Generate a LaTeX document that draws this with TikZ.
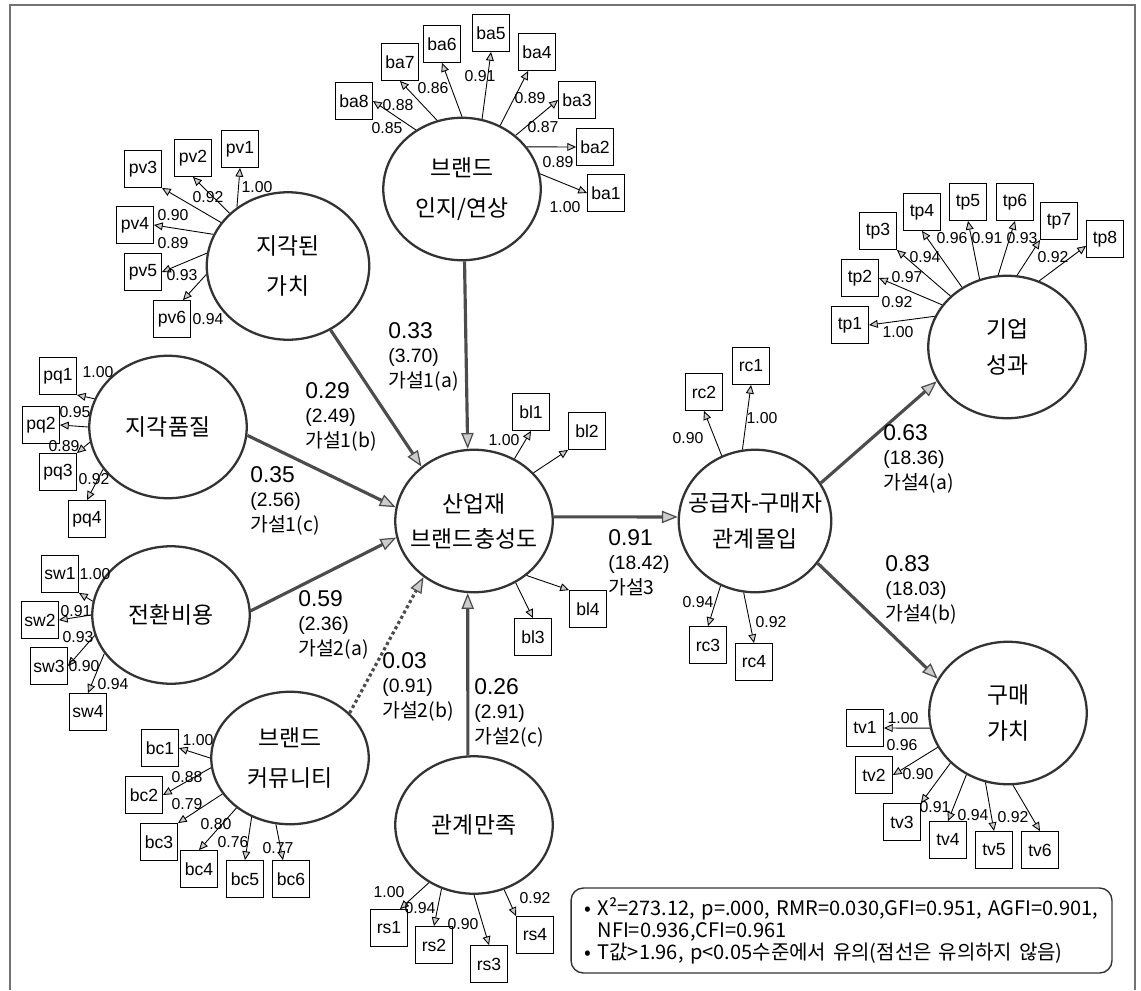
\documentclass[tikz,border=0pt]{standalone}
\usepackage{fontspec}
\newfontfamily\krfont{Noto Sans CJK KR}
\newfontfamily\arfont{Liberation Sans}
\usetikzlibrary{shapes.geometric,arrows.meta}
\newcommand{\pcoef}{\arfont\fontsize{13}{14}\selectfont}
\newcommand{\ptval}{\arfont\fontsize{11}{14}\selectfont}

\begin{document}
\begin{tikzpicture}[x=0.02cm ,y=-0.02cm ,
latent/.style ={draw=black!80, line width=1.3pt, shape=ellipse, minimum width=3.15cm, minimum height=2.85cm, inner sep=0pt},
lattext/.style ={font=\krfont\fontsize{13}{20}\selectfont, align=center},
obs/.style ={draw, line width=0.5pt, minimum size=0.74cm, inner sep=0pt, font=\arfont\fontsize{10}{12}\selectfont},
load/.style ={font=\arfont\fontsize{9}{10}\selectfont, inner sep=0pt},
ind/.style ={line width=0.5pt, -{Triangle[open, length=5pt, width=4.5pt, fill=black!20]}},
struct/.style ={draw=black!70, line width=1.8pt, -{Triangle[open, length=9pt, width=7pt, fill=black!20, line width=0.7pt]}},
hyp/.style ={anchor=north west, align=left, inner sep=0pt, font=\krfont\fontsize{11}{14}\selectfont},
fitbox/.style ={draw=black!80, line width=0.8pt, rounded corners=7pt, minimum height=1.7cm, text width=10.3cm, inner xsep=0.26cm, align=left, font=\krfont\fontsize{11.4}{12.5}\selectfont}]

\useasboundingbox (0,0) rectangle (1141,990);
\draw[black!55, line width=1.6pt] (10,990) -- (10,5) -- (1135,5) -- (1135,990);

% latent variables
\node[latent, label={[lattext]center:브랜드\\[3pt]인지/연상}] (BA) at (462,189) {};
\node[latent, minimum width=3.25cm, minimum height=2.95cm, label={[lattext]center:지각된\\[3pt]가치}] (PV) at (288,266) {};
\node[latent, label={[lattext]center:지각품질}] (PQ) at (168,427) {};
\node[latent, minimum height=2.75cm, label={[lattext]center:전환비용}] (SW) at (171,615) {};
\node[latent, minimum height=2.65cm, label={[lattext]center:브랜드\\[3pt]커뮤니티}] (BC) at (290,758) {};
\node[latent, minimum height=2.75cm, label={[lattext]center:관계만족}] (RS) at (474,825) {};
\node[latent, label={[lattext]center:산업재\\브랜드충성도}] (BL) at (474,521) {};
\node[latent, minimum width=3.05cm, label={[lattext]center:공급자-구매자\\관계몰입}] (RC) at (755,521) {};
\node[latent, label={[lattext]center:기업\\성과}] (TP) at (1007,347) {};
\node[latent, label={[lattext]center:구매\\가치}] (TV) at (1008,713) {};

% indicators
\node[obs] (ba1) at (606,193) {ba1};
\node[obs] (ba2) at (595,147) {ba2};
\node[obs] (ba3) at (577,100) {ba3};
\node[obs] (ba4) at (537,52) {ba4};
\node[obs] (ba5) at (491,33) {ba5};
\node[obs] (ba6) at (442,44) {ba6};
\node[obs] (ba7) at (400,62) {ba7};
\node[obs] (ba8) at (354,101) {ba8};
\node[obs] (pv1) at (240,149) {pv1};
\node[obs] (pv2) at (193,158) {pv2};
\node[obs] (pv3) at (143,169) {pv3};
\node[obs] (pv4) at (135,225) {pv4};
\node[obs] (pv5) at (143,272) {pv5};
\node[obs] (pv6) at (172,319) {pv6};
\node[obs] (pq1) at (58,376) {pq1};
\node[obs] (pq2) at (41,425) {pq2};
\node[obs] (pq3) at (58,472) {pq3};
\node[obs] (pq4) at (87,519) {pq4};
\node[obs] (sw1) at (60,574) {sw1};
\node[obs] (sw2) at (40,620) {sw2};
\node[obs] (sw3) at (49,666) {sw3};
\node[obs] (sw4) at (88,712) {sw4};
\node[obs] (bc1) at (160,748) {bc1};
\node[obs] (bc2) at (144,795) {bc2};
\node[obs] (bc3) at (159,842) {bc3};
\node[obs] (bc4) at (199,869) {bc4};
\node[obs] (bc5) at (245,879) {bc5};
\node[obs] (bc6) at (291,879) {bc6};
\node[obs] (rs1) at (389,928) {rs1};
\node[obs] (rs2) at (434,945) {rs2};
\node[obs] (rs3) at (489,964) {rs3};
\node[obs] (rs4) at (535,935) {rs4};
\node[obs] (bl1) at (531,412) {bl1};
\node[obs] (bl2) at (587,431) {bl2};
\node[obs] (bl3) at (533,637) {bl3};
\node[obs] (bl4) at (588,609) {bl4};
\node[obs] (rc1) at (751,366) {rc1};
\node[obs] (rc2) at (704,392) {rc2};
\node[obs] (rc3) at (708,645) {rc3};
\node[obs] (rc4) at (754,662) {rc4};
\node[obs] (tp1) at (850,325) {tp1};
\node[obs] (tp2) at (860,278) {tp2};
\node[obs] (tp3) at (878,231) {tp3};
\node[obs] (tp4) at (922,212) {tp4};
\node[obs] (tp5) at (968,202) {tp5};
\node[obs] (tp6) at (1015,202) {tp6};
\node[obs] (tp7) at (1059,221) {tp7};
\node[obs] (tp8) at (1105,239) {tp8};
\node[obs] (tv1) at (865,728) {tv1};
\node[obs] (tv2) at (874,775) {tv2};
\node[obs] (tv3) at (902,822) {tv3};
\node[obs] (tv4) at (948,840) {tv4};
\node[obs] (tv5) at (994,850) {tv5};
\node[obs] (tv6) at (1040,850) {tv6};

% loadings
\draw[ind] (BA.128) -- (ba8.east);
\draw[ind] (BA.110) -- (ba7.south);
\draw[ind] (BA.90) -- (ba6.south);
\draw[ind] (BA.74) -- (ba5.south);
\draw[ind] (BA.59) -- (ba4.245);
\draw[ind] (BA.45) -- (ba3.west);
\draw[ind] (BA.33) -- (ba2.west);
\draw[ind] (BA.11) -- (ba1.west);
\draw[ind] (PV.131) -- (pv1.south);
\draw[ind] (PV.138) -- (pv2.south);
\draw[ind] (PV.147) -- (pv3.south east);
\draw[ind] (PV.157) -- (pv4.east);
\draw[ind] (PV.171) -- (pv5.east);
\draw[ind] (PV.186) -- (pv6.60);
\draw[ind] (PQ.159) -- (pq1.south east);
\draw[ind] (PQ.180) -- (pq2.east);
\draw[ind] (PQ.191) -- (pq3.north east);
\draw[ind] (PQ.213) -- (pq4.north);
\draw[ind] (SW.170) -- (sw1.south east);
\draw[ind] (SW.180) -- (sw2.east);
\draw[ind] (SW.195) -- (sw3.east);
\draw[ind] (SW.210) -- (sw4.north);
\draw[ind] (BC.180) -- (bc1.east);
\draw[ind] (BC.187) -- (bc2.east);
\draw[ind] (BC.208) -- (bc3.north east);
\draw[ind] (BC.223) -- (bc4.north);
\draw[ind] (BC.237) -- (bc5.north);
\draw[ind] (BC.258) -- (bc6.113);
\draw[ind] (RS.232) -- (rs1.60);
\draw[ind] (RS.243) -- (rs2.north);
\draw[ind] (RS.270) -- (rs3.north);
\draw[ind] (RS.295) -- (rs4.north west);
\draw[ind] (BL.57) -- (bl1.south);
\draw[ind] (BL.39) -- (bl2.south west);
\draw[ind] (BL.314) -- (bl4.north west);
\draw[ind] (BL.304) -- (bl3.north);
\draw[ind] (RC.117) -- (rc2.south);
\draw[ind] (RC.100) -- (rc1.south);
\draw[ind] (RC.242) -- (rc3.north);
\draw[ind] (RC.261) -- (rc4.north);
\draw[ind] (TP.157) -- (tp1.east);
\draw[ind] (TP.147) -- (tp2.east);
\draw[ind] (TP.138) -- (tp3.south east);
\draw[ind] (TP.127) -- (tp4.south);
\draw[ind] (TP.112) -- (tp5.south);
\draw[ind] (TP.97) -- (tp6.south);
\draw[ind] (TP.82) -- (tp7.south west);
\draw[ind] (TP.64) -- (tp8.200);
\draw[ind] (TV.191) -- (tv1.east);
\draw[ind] (TV.206) -- (tv2.east);
\draw[ind] (TV.221) -- (tv3.north east);
\draw[ind] (TV.236) -- (tv4.north);
\draw[ind] (TV.252) -- (tv5.north);
\draw[ind] (TV.274) -- (tv6.north);

\node[load] (lba8) at (387,128) {0.85};
\node[load] (lba7) at (398,105) {0.88};
\node[load] (lba6) at (433,88) {0.86};
\node[load] (lba5) at (480,76) {0.91};
\node[load] (lba4) at (530,98) {0.89};
\node[load] (lba3) at (543,127) {0.87};
\node[load] (lba2) at (558,162) {0.89};
\node[load] (lba1) at (565,207) {1.00};
\node[load] (lpv1) at (257,187) {1.00};
\node[load] (lpv2) at (208,197) {0.92};
\node[load] (lpv3) at (173,215) {0.90};
\node[load] (lpv4) at (173,243) {0.89};
\node[load] (lpv5) at (182,275) {0.93};
\node[load] (lpv6) at (208,319) {0.94};
\node[load] (lpq1) at (98,372) {1.00};
\node[load] (lpq2) at (75,412) {0.95};
\node[load] (lpq3) at (64,446) {0.89};
\node[load] (lpq4) at (94,479) {0.92};
\node[load] (lsw1) at (95,574) {1.00};
\node[load] (lsw2) at (76,611) {0.91};
\node[load] (lsw3) at (78,637) {0.93};
\node[load] (lsw4) at (84,666) {0.90};
\node[load] (lsw5) at (113,684) {0.94};
\node[load] (lbc1) at (198,740) {1.00};
\node[load] (lbc2) at (187,777) {0.88};
\node[load] (lbc3) at (187,804) {0.79};
\node[load] (lbc4) at (216,824) {0.80};
\node[load] (lbc5) at (233,842) {0.76};
\node[load] (lbc6) at (278,848) {0.77};
\node[load] (lrs1) at (389,892) {1.00};
\node[load] (lrs2) at (420,908) {0.94};
\node[load] (lrs3) at (463,924) {0.90};
\node[load] (lrs4) at (535,898) {0.92};
\node[load] (lbl1) at (504,440) {1.00};
\node[load] (lrc2) at (688,438) {0.90};
\node[load] (lrc1) at (762,418) {1.00};
\node[load] (lrc3) at (698,602) {0.94};
\node[load] (lrc4) at (771,622) {0.92};
\node[load] (ltp1) at (898,332) {1.00};
\node[load] (ltp2) at (897,302) {0.92};
\node[load] (ltp3) at (907,277) {0.97};
\node[load] (ltp4) at (925,257) {0.94};
\node[load] (ltp5) at (952,238) {0.96};
\node[load] (ltp6) at (987,238) {0.91};
\node[load] (ltp7) at (1022,238) {0.93};
\node[load] (ltp8) at (1053,257) {0.92};
\node[load] (ltv1) at (903,718) {1.00};
\node[load] (ltv2) at (902,745) {0.96};
\node[load] (ltv3) at (918,774) {0.90};
\node[load] (ltv4) at (935,807) {0.91};
\node[load] (ltv5) at (973,815) {0.94};
\node[load] (ltv6) at (1013,817) {0.92};

% structural paths
\draw[struct] (BA.272) -- (BL.95);
\draw[struct] (PV) -- (BL.134);
\draw[struct] (PQ.-6) -- (BL.170);
\draw[struct] (SW.3) -- (BL.192);
\draw[struct, dash pattern=on 1.8pt off 1.6pt] (BC.37) -- (BL.228);
\draw[struct] (RS.95) -- (BL.265);
\draw[struct] (BL.3) -- (RC.177);
\draw[struct] (RC.30) -- (TP.206);
\draw[struct] (RC.-34) -- (TV.154);

\node[hyp] (H1a) at (388,322) {{\pcoef 0.33}\\{\ptval (3.70)}\\가설1(a)};
\node[hyp] (H1b) at (305,382) {{\pcoef 0.29}\\{\ptval (2.49)}\\가설1(b)};
\node[hyp] (H1c) at (250,466) {{\pcoef 0.35}\\{\ptval (2.56)}\\가설1(c)};
\node[hyp] (H2a) at (298,590) {{\pcoef 0.59}\\{\ptval (2.36)}\\가설2(a)};
\node[hyp] (H2b) at (382,652) {{\pcoef 0.03}\\{\ptval (0.91)}\\가설2(b)};
\node[hyp] (H2c) at (474,678) {{\pcoef 0.26}\\{\ptval (2.91)}\\가설2(c)};
\node[hyp] (H3) at (608,529) {{\pcoef 0.91}\\{\ptval (18.42)}\\가설3};
\node[hyp] (H4a) at (883,424) {{\pcoef 0.63}\\{\ptval (18.36)}\\가설4(a)};
\node[hyp] (H4b) at (885,555) {{\pcoef 0.83}\\{\ptval (18.03)}\\가설4(b)};

% fit indices
\node[fitbox] (FIT) at (841.5,930.5) {• X²=273.12, p=.000, RMR=0.030,GFI=0.951, AGFI=0.901,\\\phantom{• }NFI=0.936,CFI=0.961\\• T값>1.96, p<0.05수준에서 유의(점선은 유의하지 않음)};

\end{tikzpicture}
\end{document}
